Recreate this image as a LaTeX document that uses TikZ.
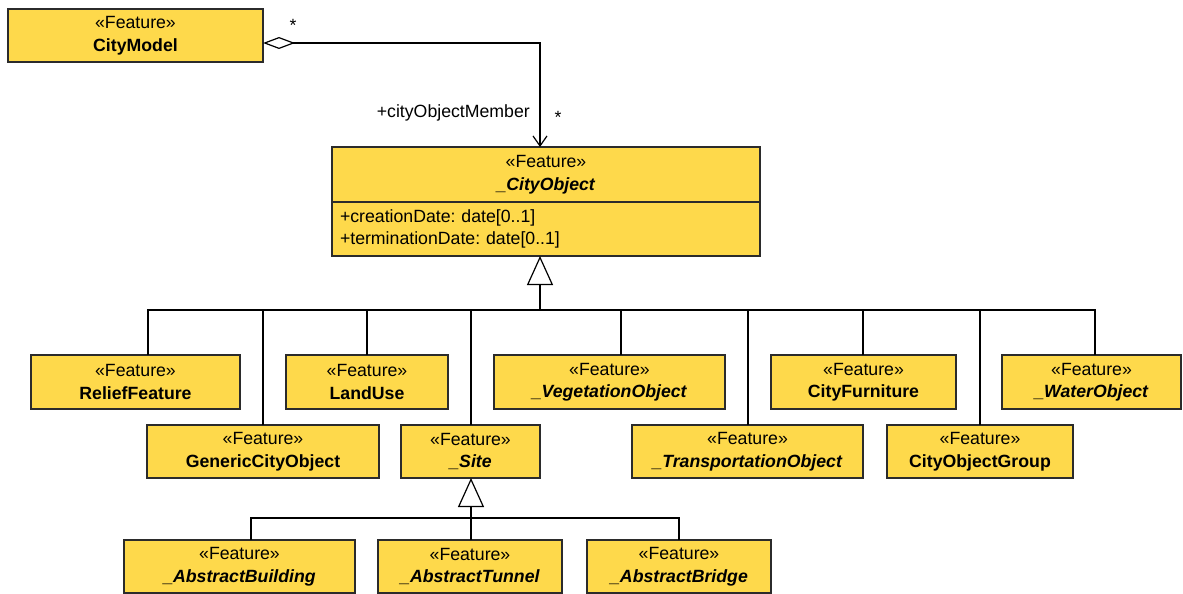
\documentclass[tikz,border=0pt]{standalone}
\usepackage{fontspec}
\setmainfont{Liberation Sans}
\usepackage{tikz}
\usetikzlibrary{arrows.meta, positioning, calc}
\definecolor{featyellow}{HTML}{FED94B}
\definecolor{boxline}{HTML}{2B2B2B}
\frenchspacing

\begin{document}
\begin{tikzpicture}[
    x=1pt, y=-1pt,
    font=\fontsize{17.7}{22.5}\selectfont,
    feature/.style={rectangle, draw=boxline, line width=1.5pt, fill=featyellow, minimum height=54pt, inner sep=0pt, outer sep=0pt, align=center},
    line/.style={draw=black, line width=1.2pt},
    gen/.style={line, -{Triangle[open, length=29pt, width=26pt]}},
    mult/.style={inner sep=0pt, anchor=base},
]

\useasboundingbox (0,0) rectangle (1183,594);

\node[feature, minimum width=255pt, minimum height=53pt] (citymodel) at (135.5,35.5) {«Feature»\\\textbf{CityModel}};
\node[feature, minimum width=428pt, minimum height=55pt] (cityobject) at (546,174.5) {«Feature»\\\textbf{\textit{\_CityObject}}};
\node[feature, minimum width=428pt, text width=412pt, inner xsep=8pt, align=left, below=0pt of cityobject] (cityattrs) {+creationDate: date[0..1]\\+terminationDate: date[0..1]};

\node[feature, minimum width=209pt] (relief) at (135.5,382) {«Feature»\\\textbf{ReliefFeature}};
\node[feature, minimum width=162pt] (landuse) at (367,382) {«Feature»\\\textbf{LandUse}};
\node[feature, minimum width=231pt] (vegetation) at (609.5,382) {«Feature»\\\textbf{\textit{\_VegetationObject}}};
\node[feature, minimum width=185pt] (furniture) at (863.5,382) {«Feature»\\\textbf{CityFurniture}};
\node[feature, minimum width=179pt] (water) at (1091.5,382) {«Feature»\\\textbf{\textit{\_WaterObject}}};

\node[feature, minimum width=232pt, minimum height=53pt] (generic) at (263,451.5) {«Feature»\\\textbf{GenericCityObject}};
\node[feature, minimum width=139pt, minimum height=53pt] (site) at (470.5,451.5) {«Feature»\\\textbf{\textit{\_Site}}};
\node[feature, minimum width=231pt, minimum height=53pt] (transport) at (747.5,451.5) {«Feature»\\\textbf{\textit{\_TransportationObject}}};
\node[feature, minimum width=186pt, minimum height=53pt] (group) at (980,451.5) {«Feature»\\\textbf{CityObjectGroup}};

\node[feature, minimum width=231pt, minimum height=53pt] (building) at (239.5,566.5) {«Feature»\\\textbf{\textit{\_AbstractBuilding}}};
\node[feature, minimum width=184pt, minimum height=53pt] (tunnel) at (470,566.5) {«Feature»\\\textbf{\textit{\_AbstractTunnel}}};
\node[feature, minimum width=184pt, minimum height=53pt] (bridge) at (679,566.5) {«Feature»\\\textbf{\textit{\_AbstractBridge}}};

\coordinate (bus) at (540,310);
\coordinate (subbus) at (471,518);

\draw[line, {Diamond[open, length=32pt, width=12pt]}-{Straight Barb[length=10pt, width=14pt]}] ([yshift=-7.5pt]citymodel.east) -| ([xshift=-6pt]cityobject.north);
\node[mult] (srcmult) at (293,32) {*};
\node[mult] (dstmult) at (558,123) {*};
\node[inner sep=0pt, anchor=base east] (role) at (530,117) {+cityObjectMember};

\draw[line] ([xshift=12.5pt]relief.north) |- (bus);
\draw[line] ([xshift=11.5pt]vegetation.north) |- (bus);
\draw[line] ([xshift=3.5pt]water.north) |- (bus);
\draw[line] ([xshift=0.5pt]site.north) |- (bus);
\draw[line] ([xshift=0.5pt]transport.north) |- (bus);
\draw[line] ([xshift=-0.5pt]furniture.north) |- (bus);
\foreach \n in {generic, landuse, group}
    \draw[line] (\n.north) |- (bus);
\draw[gen] (bus) -- ([xshift=-6pt]cityattrs.south);

\draw[line] ([xshift=11.5pt]building.north) |- (subbus);
\draw[line] (bridge.north) |- (subbus);
\draw[line] ([xshift=1pt]tunnel.north) -- (subbus);
\draw[gen] (subbus) -- ([xshift=0.5pt]site.south);

\end{tikzpicture}
\end{document}
